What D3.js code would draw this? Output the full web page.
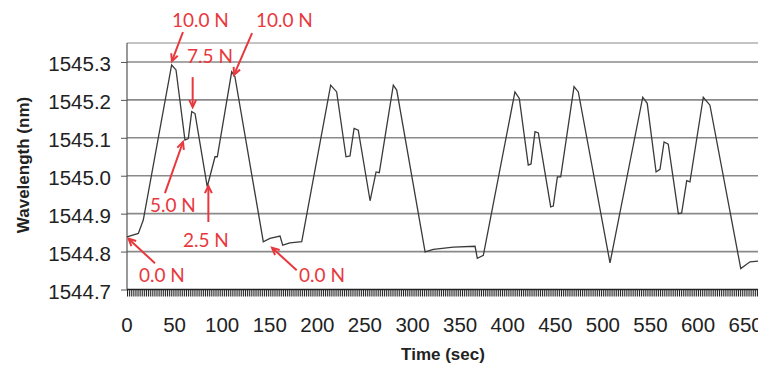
<!DOCTYPE html>
<meta charset="utf-8">
<script src="https://d3js.org/d3.v7.min.js"></script>
<body style="margin:0;background:#fff">
<svg width="758" height="371"></svg>
<script>
// sensor response
var time = [0, 11.9, 17.1, 46.9, 51.5, 60.9, 64.4, 68.0, 71.5, 84.3, 92.5, 94.9, 110.0, 113.4, 143.2,
  150.2, 160.8, 163.6, 171.2, 183.6, 214.0, 220.3, 230.1, 234.3, 238.6, 243.0, 255.4, 261.7, 265.1,
  279.8, 283.4, 313.2, 321.9, 342.9, 365.7, 368.1, 374.4, 407.6, 412.2, 421.6, 424.5, 428.7, 432.2,
  445.2, 447.9, 452.2, 455.7, 469.7, 474.2, 507.5, 541.9, 546.6, 555.9, 560.0, 564.3, 568.7, 579.3,
  582.8, 588.1, 591.5, 605.5, 612.5, 644.9, 654.6, 664];
var wavelength = [1544.839, 1544.848, 1544.883, 1545.292, 1545.279, 1545.094, 1545.098, 1545.169,
  1545.164, 1544.971, 1545.050, 1545.050, 1545.274, 1545.261, 1544.826, 1544.835, 1544.841, 1544.817,
  1544.823, 1544.826, 1545.239, 1545.221, 1545.050, 1545.052, 1545.125, 1545.120, 1544.934, 1545.010,
  1545.008, 1545.239, 1545.226, 1544.799, 1544.806, 1544.812, 1544.814, 1544.782, 1544.790, 1545.221,
  1545.204, 1545.028, 1545.031, 1545.116, 1545.113, 1544.918, 1544.920, 1544.997, 1544.997, 1545.235,
  1545.221, 1544.770, 1545.207, 1545.191, 1545.010, 1545.017, 1545.089, 1545.083, 1544.900, 1544.902,
  1544.987, 1544.984, 1545.207, 1545.186, 1544.755, 1544.773, 1544.775];

var yTicks = [1544.7, 1544.8, 1544.9, 1545.0, 1545.1, 1545.2, 1545.3];
var xTicks = d3.range(0, 651, 50);

// load annotations: text at (tt, tv), arrow from (at, av) to (bt, bv)
var notes = [
  {label: "10.0 N", tt: 47.2, tv: 1545.392, at: 58.8, av: 1545.379, bt: 47.2, bv: 1545.302},
  {label: "7.5 N", tt: 63.1, tv: 1545.297, at: 69.0, av: 1545.260, bt: 69.0, bv: 1545.181},
  {label: "10.0 N", tt: 135.5, tv: 1545.392, at: 131.4, av: 1545.376, bt: 112.4, bv: 1545.266},
  {label: "5.0 N", tt: 24.1, tv: 1544.904, at: 39.9, av: 1544.954, bt: 58.8, bv: 1545.089},
  {label: "2.5 N", tt: 58.8, tv: 1544.812, at: 85.5, av: 1544.878, bt: 85.5, bv: 1544.973},
  {label: "0.0 N", tt: 12.6, tv: 1544.719, at: 29.4, av: 1544.769, bt: 1.6, bv: 1544.834},
  {label: "0.0 N", tt: 180.8, tv: 1544.719, at: 178.3, av: 1544.751, bt: 152.4, bv: 1544.810}
];

var svg = d3.select('svg');
var x = d3.scaleLinear().domain([0, 663]).range([127, 758]);
var y = d3.scaleLinear().domain([1544.7, 1545.35]).range([289.5, 43]);
var sans = 'Liberation Sans, Arial, sans-serif';

// grid
svg.append('g').selectAll('line').data(yTicks.slice(1)).enter().append('line')
  .attr('x1', x(0)).attr('x2', 758)
  .attr('y1', function (d) { return y(d); }).attr('y2', function (d) { return y(d); })
  .attr('stroke', '#8a8a8a').attr('stroke-width', 1.6);
svg.append('line').attr('x1', x(0)).attr('x2', 758).attr('y1', y(1545.35)).attr('y2', y(1545.35))
  .attr('stroke', '#b0b0b0').attr('stroke-width', 1.4);

// y axis
var yAxis = svg.append('g').attr('transform', 'translate(' + x(0) + ',0)')
  .call(d3.axisLeft(y).tickValues(yTicks).tickSize(6).tickPadding(10).tickFormat(d3.format('.1f')));
yAxis.select('.domain').attr('stroke', '#555').attr('stroke-width', 1.2).attr('d', 'M0,' + y(1545.35) + 'V' + y(1544.7));
yAxis.selectAll('.tick line').attr('stroke', '#555');
yAxis.selectAll('text').attr('font-family', sans).attr('font-size', 20.5)
  .attr('fill', '#222').attr('dy', '0.42em');

// x axis with dense minor ticks
var xAxis = svg.append('g').attr('transform', 'translate(0,' + y(1544.7) + ')')
  .call(d3.axisBottom(x).tickValues(d3.range(0, 664, 2)).tickSize(7).tickFormat(''));
xAxis.select('.domain').attr('stroke', '#222').attr('stroke-width', 1.5).attr('d', 'M' + x(0) + ',0H758');
xAxis.selectAll('.tick line').attr('stroke', '#222').attr('stroke-width', 1);
svg.append('g').selectAll('text').data(xTicks).enter().append('text')
  .attr('x', function (d) { return x(d); }).attr('y', 332)
  .attr('text-anchor', 'middle')
  .attr('font-family', sans).attr('font-size', 20.5).attr('fill', '#222')
  .text(function (d) { return d; });

// axis titles
svg.append('text').attr('x', 443).attr('y', 360).attr('text-anchor', 'middle')
  .attr('font-family', sans).attr('font-weight', 'bold')
  .attr('font-size', 17).attr('fill', '#222').text('Time (sec)');
svg.append('text').attr('transform', 'translate(29,165) rotate(-90)').attr('text-anchor', 'middle')
  .attr('font-family', sans).attr('font-weight', 'bold')
  .attr('font-size', 17).attr('fill', '#222').text('Wavelength (nm)');

// trace
var pts = time.map(function (t, i) { return [t, wavelength[i]]; });
svg.append('path').datum(pts)
  .attr('fill', 'none').attr('stroke', '#3a3a3a').attr('stroke-width', 1.3)
  .attr('d', d3.line().x(function (d) { return x(d[0]); }).y(function (d) { return y(d[1]); }));

// annotations
var red = '#e8383d';
var g = svg.append('g');
notes.forEach(function (n) {
  var x1 = x(n.at), y1 = y(n.av), x2 = x(n.bt), y2 = y(n.bv);
  var ang = Math.atan2(y2 - y1, x2 - x1), h = 8, s = 0.45;
  g.append('line').attr('x1', x1).attr('y1', y1).attr('x2', x2).attr('y2', y2)
    .attr('stroke', red).attr('stroke-width', 2);
  g.append('path')
    .attr('d', 'M' + (x2 - h * Math.cos(ang - s)) + ',' + (y2 - h * Math.sin(ang - s)) +
      'L' + x2 + ',' + y2 +
      'L' + (x2 - h * Math.cos(ang + s)) + ',' + (y2 - h * Math.sin(ang + s)))
    .attr('fill', 'none').attr('stroke', red).attr('stroke-width', 2);
  g.append('text').attr('x', x(n.tt)).attr('y', y(n.tv))
    .attr('font-family', 'Lato, Open Sans, sans-serif').attr('font-size', 19).attr('fill', red)
    .text(n.label);
});
</script>
</body>
